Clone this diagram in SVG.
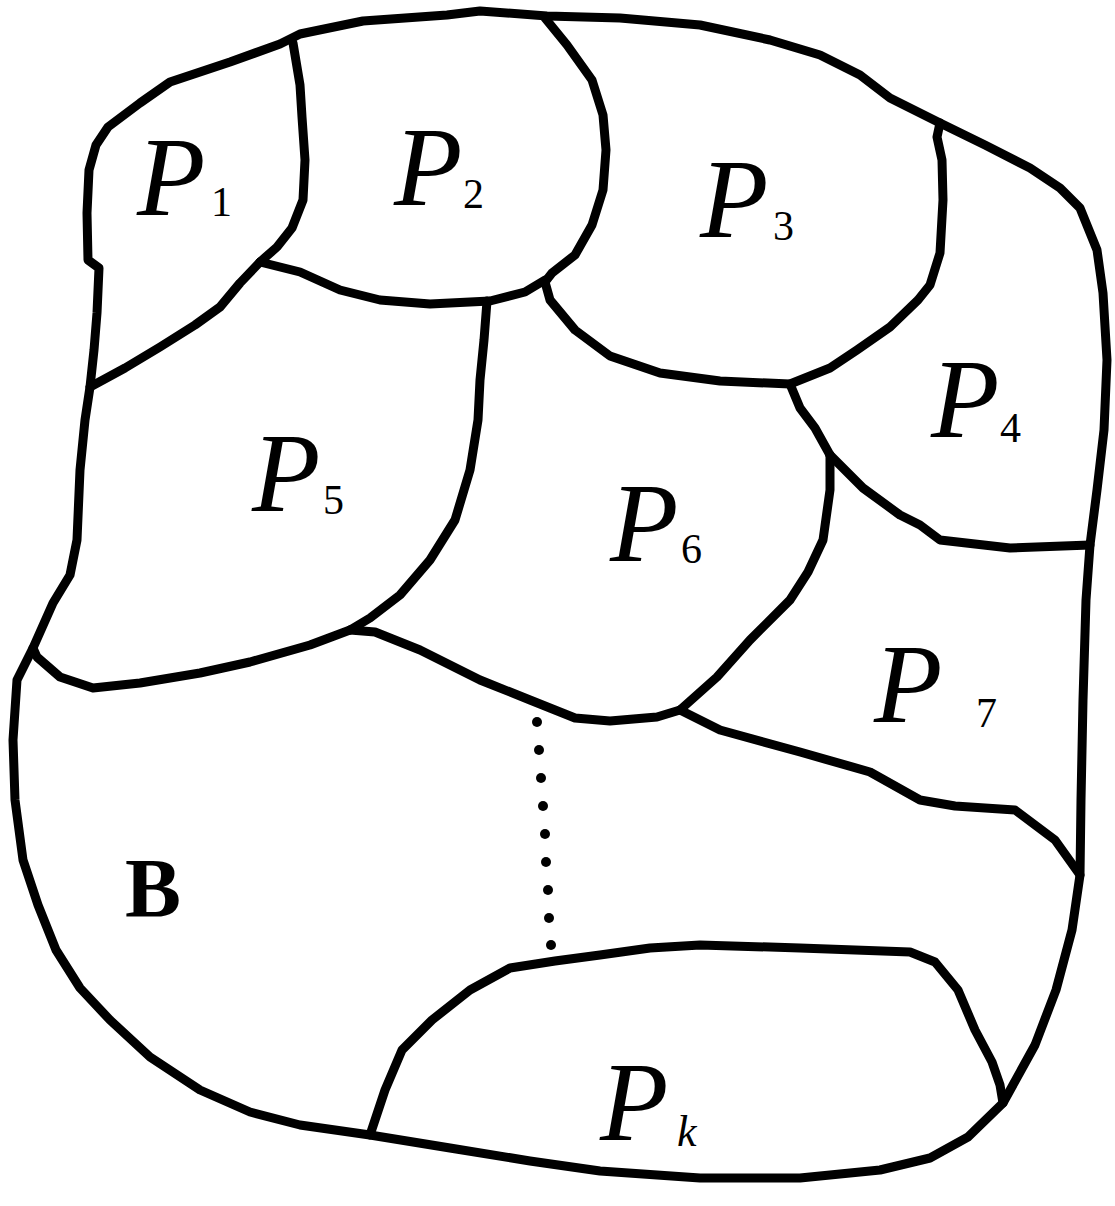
<svg xmlns="http://www.w3.org/2000/svg" width="1115" height="1206" viewBox="0 0 1115 1206">
<style>
.b{fill:none;stroke:#000;stroke-width:9;stroke-linejoin:round;stroke-linecap:round}
.p{font-family:"Liberation Serif","Times New Roman",serif;font-style:italic;font-size:112px;fill:#000}
.s{font-family:"Liberation Serif","Times New Roman",serif;font-size:42px;fill:#000}
.k{font-family:"Liberation Serif","Times New Roman",serif;font-style:italic;font-size:44px;fill:#000}
.B{font-family:"Liberation Serif","Times New Roman",serif;font-weight:bold;font-size:84px;fill:#000}
</style>
<rect width="1115" height="1206" fill="#fff"/>
<g id="boundaries">
<path id="outer" class="b" d="M90,387 L94,350 L97,313 L99,268 L88,260 L87,213 L89,170 L96,145 L108,127 L140,103 L170,82 L230,62 L280,44 L300,34 L363,21 L447,15 L480,11 L547,16 L620,18 L700,25 L770,40 L820,55 L860,75 L890,98 L940,123 L985,145 L1030,168 L1060,188 L1080,208 L1097,250 L1103,293 L1107,360 L1104,430 L1097,490 L1090,545 L1086,600 L1083,700 L1081,800 L1080,875 L1072,930 L1056,990 L1035,1045 L1003,1103 L968,1137 L930,1158 L880,1170 L800,1178 L700,1178 L600,1171 L530,1161 L450,1148 L370,1135 L300,1125 L250,1112 L200,1090 L150,1057 L110,1020 L80,988 L56,950 L38,905 L23,860 L15,800 L13,740 L17,680 L33,648 L53,603 L70,575 L77,540 L80,470 L85,420 Z"/>
<path id="p1-p5" class="b" d="M90,387 L125,368 L160,347 L195,325 L220,307 L240,283 L260,262"/>
<path id="p1-p2" class="b" d="M293,43 L300,85 L302,117 L305,160 L303,200 L292,228 L277,247 L260,262"/>
<path id="p2-bottom" class="b" d="M260,262 L300,272 L340,290 L380,300 L430,304 L490,301 L525,292 L545,280"/>
<path id="p2-p3" class="b" d="M545,18 L567,45 L592,80 L603,115 L606,150 L603,190 L592,225 L575,255 L552,273 L545,282"/>
<path id="p3-bottom" class="b" d="M545,282 L550,300 L575,330 L610,356 L660,373 L720,381 L790,384 L830,368 L857,350 L890,327 L918,300 L930,285 L940,253 L943,200 L942,160 L937,137 L940,123"/>
<path id="p5-p6" class="b" d="M487,301 L484,340 L480,380 L478,420 L470,470 L455,520 L430,560 L400,595 L370,618 L350,630"/>
<path id="p4-p6" class="b" d="M790,384 L800,408 L815,428 L830,455"/>
<path id="p4-bottom" class="b" d="M830,455 L863,488 L900,515 L920,525 L940,540 L1010,548 L1090,545"/>
<path id="p6-p7" class="b" d="M830,455 L830,490 L823,540 L808,572 L790,600 L750,640 L717,677 L680,710"/>
<path id="p6-bottom" class="b" d="M350,630 L375,632 L420,650 L480,680 L530,700 L575,718 L610,721 L657,717 L680,710"/>
<path id="p5-bottom" class="b" d="M350,630 L310,645 L250,662 L200,673 L140,683 L93,688 L60,677 L37,657 L33,648"/>
<path id="p7-bottom" class="b" d="M680,710 L720,730 L800,752 L870,772 L920,800 L955,806 L1015,810 L1055,840 L1080,875"/>
<path id="pk-top" class="b" d="M370,1135 L385,1090 L402,1050 L432,1020 L470,990 L510,968 L555,961 L600,955 L650,948 L700,945 L800,948 L910,952 L935,962 L958,990 L975,1030 L992,1062 L1000,1085 L1003,1103"/>
</g>
<g id="dots" fill="#000">
<circle cx="537" cy="722" r="5"/>
<circle cx="539" cy="750" r="5"/>
<circle cx="541" cy="778" r="5"/>
<circle cx="543" cy="806" r="5"/>
<circle cx="545" cy="834" r="5"/>
<circle cx="546" cy="862" r="5"/>
<circle cx="548" cy="890" r="5"/>
<circle cx="549" cy="918" r="5"/>
<circle cx="551" cy="945" r="5"/>
</g>
<g id="labels">
<text class="p" x="137" y="215">P</text><text class="s" x="211" y="216">1</text>
<text class="p" x="394" y="205">P</text><text class="s" x="463" y="208">2</text>
<text class="p" x="700" y="237">P</text><text class="s" x="773" y="240">3</text>
<text class="p" x="931" y="437">P</text><text class="s" x="1000" y="442">4</text>
<text class="p" x="252" y="511">P</text><text class="s" x="323" y="514">5</text>
<text class="p" x="610" y="561">P</text><text class="s" x="681" y="563">6</text>
<text class="p" x="874" y="722">P</text><text class="s" x="976" y="727">7</text>
<text class="B" x="125" y="917">B</text>
<text class="p" x="600" y="1140">P</text><text class="k" x="677" y="1146">k</text>
</g>
</svg>
